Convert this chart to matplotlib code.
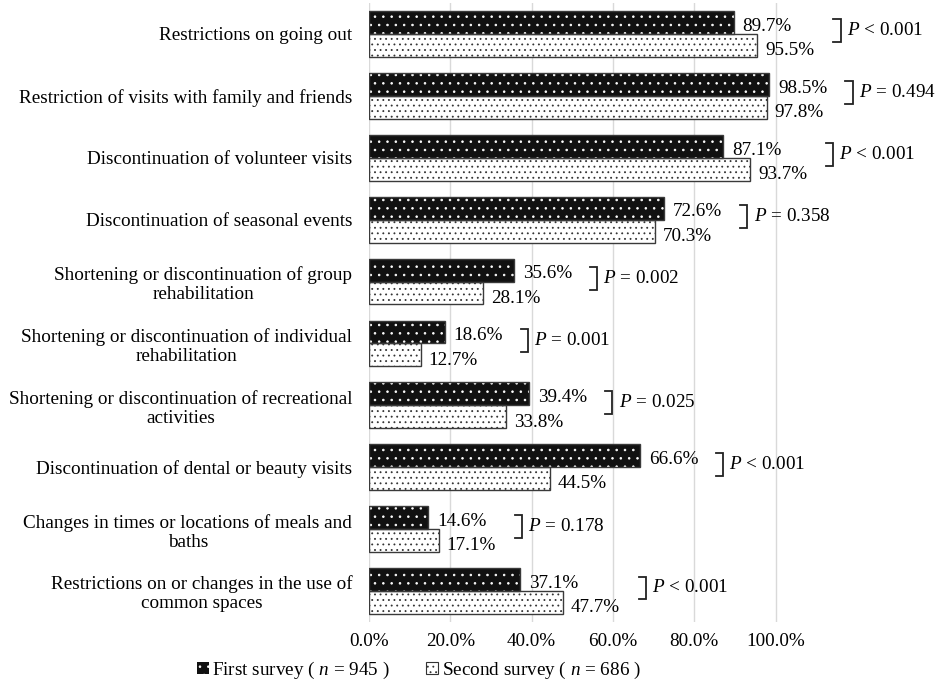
import matplotlib
matplotlib.use("Agg")
import matplotlib.pyplot as plt
from matplotlib.patches import Patch
from matplotlib.ticker import PercentFormatter
import numpy as np

plt.rcParams["font.family"] = ["Liberation Serif", "DejaVu Serif"]
plt.rcParams["mathtext.fontset"] = "custom"
plt.rcParams["mathtext.rm"] = "Liberation Serif"
plt.rcParams["mathtext.it"] = "Liberation Serif:italic"
plt.rcParams["hatch.linewidth"] = 0.6

# Data
categories = [
    "Restrictions on going out",
    "Restriction of visits with family and friends",
    "Discontinuation of volunteer visits",
    "Discontinuation of seasonal events",
    "Shortening or discontinuation of group\nrehabilitation",
    "Shortening or discontinuation of individual\nrehabilitation",
    "Shortening or discontinuation of recreational\nactivities",
    "Discontinuation of dental or beauty visits",
    "Changes in times or locations of meals and\nbaths",
    "Restrictions on or changes in the use of\ncommon spaces",
]
first_survey = [89.7, 98.5, 87.1, 72.6, 35.6, 18.6, 39.4, 66.6, 14.6, 37.1]
second_survey = [95.5, 97.8, 93.7, 70.3, 28.1, 12.7, 33.8, 44.5, 17.1, 47.7]
p_values = ["< 0.001", "= 0.494", "< 0.001", "= 0.358", "= 0.002",
            "= 0.001", "= 0.025", "< 0.001", "= 0.178", "< 0.001"]
n_first = 945
n_second = 686
x_ticks = [0.0, 0.2, 0.4, 0.6, 0.8, 1.0]

FS = 13.8
fig = plt.figure(figsize=(9.37, 6.97), dpi=100)
ax = fig.add_axes([0.3938, 0.1076, 0.5857, 0.8881])

y = np.arange(len(categories))
h = 0.37
f1 = np.array(first_survey) / 100
f2 = np.array(second_survey) / 100

edge = "#3a3a3a"
# First survey: black bars with white dots
ax.barh(y - h / 2, f1, height=h, color="#111111", edgecolor="white",
        hatch="..", linewidth=0, zorder=3)
ax.barh(y - h / 2, f1, height=h, fill=False, edgecolor=edge,
        linewidth=1.0, zorder=4)
# Second survey: white bars with black dots
ax.barh(y + h / 2, f2, height=h, color="white", edgecolor="#333333",
        hatch="...", linewidth=0, zorder=3)
ax.barh(y + h / 2, f2, height=h, fill=False, edgecolor=edge,
        linewidth=1.0, zorder=4)

# Value labels
for i in range(len(y)):
    ax.text(f1[i] + 0.022, y[i] - 0.125, f"{first_survey[i]:.1f}%",
            ha="left", va="center", fontsize=FS, zorder=5)
    ax.text(f2[i] + 0.02, y[i] + 0.27, f"{second_survey[i]:.1f}%",
            ha="left", va="center", fontsize=FS, zorder=5)

# Significance brackets
for i in range(len(y)):
    bx = max(f1[i], f2[i]) + 0.205
    top = y[i] - h / 2 - 0.05
    bot = y[i] + h / 2 - 0.05
    tick = 0.018
    ax.plot([bx - tick, bx, bx, bx - tick], [top, top, bot, bot],
            color="#222222", lw=1.3, zorder=5, solid_joinstyle="miter")
    ax.text(bx + 0.015, (top + bot) / 2 + 0.0, f"$P$ {p_values[i]}",
            ha="left", va="center", fontsize=FS, zorder=5)

ax.set_ylim(len(y) - 0.5, -0.5)
ax.set_xlim(0, 1.35)
ax.set_xticks(x_ticks)
ax.xaxis.set_major_formatter(PercentFormatter(1.0, decimals=1))
ax.set_yticks(y)
ax.set_yticklabels(categories, fontsize=FS, linespacing=1.15)
for t in ax.get_yticklabels():
    t.set_multialignment("center")
for t in ax.get_xticklabels():
    t.set_fontsize(FS)
ax.tick_params(axis="y", length=0, pad=12)
ax.tick_params(axis="x", length=0, pad=8)
ax.grid(axis="x", color="#d9d9d9", lw=1.0, zorder=0)
for s in ax.spines.values():
    s.set_visible(False)

handles = [
    Patch(facecolor="#111111", edgecolor="white", hatch="..", lw=0),
    Patch(facecolor="white", edgecolor="#333333", hatch="...", lw=0.8),
]
labels = [f"First survey ( $n$ = {n_first} )",
          f"Second survey ( $n$ = {n_second} )"]
fig.legend(handles, labels, loc="center", bbox_to_anchor=(0.447, 0.038),
           ncol=2, frameon=False, fontsize=FS, handlelength=0.6,
           handleheight=0.6, handletextpad=0.2, columnspacing=1.9)

fig.savefig("out.png", dpi=100)
